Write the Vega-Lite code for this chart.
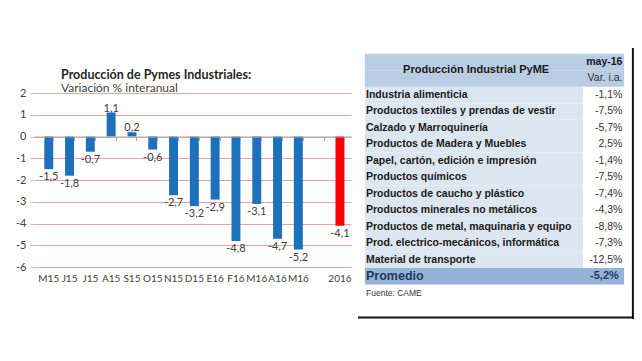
{
  "$schema": "https://vega.github.io/schema/vega-lite/v6.json",
  "padding": {"left": 15, "top": 47, "right": 0, "bottom": 0},
  "background": "white",
  "config": {
    "view": {"stroke": null},
    "locale": {"number": {"decimal": ",", "thousands": ".", "grouping": [3], "currency": ["", " €"], "minus": "-"}},
    "font": "Lato"
  },
  "bounds": "flush",
  "spacing": 7,
  "hconcat": [
    {
      "width": 317,
      "height": 219,
      "title": {
        "text": "Producción de Pymes Industriales:",
        "subtitle": "Variación % interanual",
        "anchor": "start",
        "frame": "group",
        "dx": 27,
        "offset": -46,
        "font": "Lato",
        "fontSize": 12.5,
        "fontWeight": "bold",
        "color": "#262626",
        "subtitleFont": "Lato",
        "subtitleFontSize": 12,
        "subtitleColor": "#404040",
        "subtitlePadding": 2
      },
      "data": {"values": [
        {"m": "M15a", "v": -1.5, "s": "mes"},
        {"m": "J15a", "v": -1.8, "s": "mes"},
        {"m": "J15b", "v": -0.7, "s": "mes"},
        {"m": "A15a", "v": 1.1, "s": "mes"},
        {"m": "S15a", "v": 0.2, "s": "mes"},
        {"m": "O15a", "v": -0.6, "s": "mes"},
        {"m": "N15a", "v": -2.7, "s": "mes"},
        {"m": "D15a", "v": -3.2, "s": "mes"},
        {"m": "E16a", "v": -2.9, "s": "mes"},
        {"m": "F16a", "v": -4.8, "s": "mes"},
        {"m": "M16a", "v": -3.1, "s": "mes"},
        {"m": "A16a", "v": -4.7, "s": "mes"},
        {"m": "M16b", "v": -5.2, "s": "mes"},
        {"m": "2016a", "v": -4.1, "s": "anual"}
      ]},
      "resolve": {"axis": {"x": "independent"}},
      "layer": [
        {
          "mark": {"type": "bar"},
          "encoding": {
            "x": {
              "field": "m", "type": "nominal",
              "scale": {
                "domain": ["M15a","J15a","J15b","A15a","S15a","O15a","N15a","D15a","E16a","F16a","M16a","A16a","M16b","_","2016a"],
                "paddingInner": 0.57, "paddingOuter": 0.405, "align": 0.61
              },
              "axis": {
                "title": null, "labelAngle": 0, "domain": false, "ticks": false,
                "labelPadding": 6, "labelFontSize": 10, "labelColor": "#404040",
                "labelExpr": "slice(datum.value, 0, -1)"
              }
            },
            "y": {
              "field": "v", "type": "quantitative",
              "scale": {"domain": [-6, 4.07], "nice": false, "zero": false},
              "axis": {
                "title": null, "values": [-6, -5, -4, -3, -2, -1, 0, 1, 2], "labelOverlap": false,
                "grid": true, "gridColor": "#e6a0a6", "gridWidth": 1, "gridOpacity": 1,
                "domain": false, "ticks": true, "tickSize": 4, "tickColor": "#bfbfbf", "labelPadding": 4,
                "labelFontSize": 11, "labelColor": "#404040", "format": "d"
              }
            },
            "y2": {"datum": 0},
            "color": {
              "field": "s", "type": "nominal", "legend": null,
              "scale": {"domain": ["mes", "anual"], "range": ["#1e70bb", "#ff0000"]}
            }
          }
        },
        {
          "transform": [{"filter": "datum.v < 0"}],
          "mark": {"type": "text", "baseline": "top", "dy": 2, "fontSize": 11, "color": "#404040",
                   "text": {"expr": "format(datum.v, '.1f')"}},
          "encoding": {
            "x": {
              "field": "m", "type": "nominal",
              "axis": {
                "title": null, "orient": "bottom", "offset": -130.5, "labels": false,
                "domain": true, "domainColor": "#a6a6a6", "domainWidth": 1,
                "ticks": true, "tickColor": "#a6a6a6", "tickSize": 4, "tickBand": "extent", "zindex": 1
              }
            },
            "y": {
              "field": "v", "type": "quantitative",
              "axis": {
                "title": null, "values": [-6, -5, -4, -3, -2, -1, 0, 1, 2], "labelOverlap": false,
                "grid": true, "gridColor": "#e6a0a6", "gridWidth": 1, "gridOpacity": 1,
                "domain": false, "ticks": true, "tickSize": 4, "tickColor": "#bfbfbf", "labelPadding": 4,
                "labelFontSize": 11, "labelColor": "#404040", "format": "d"
              }
            }
          }
        },
        {
          "transform": [{"filter": "datum.v >= 0"}],
          "mark": {"type": "text", "baseline": "bottom", "dy": 1, "fontSize": 11, "color": "#404040",
                   "text": {"expr": "format(datum.v, '.1f')"}},
          "encoding": {
            "x": {"field": "m", "type": "nominal", "axis": null},
            "y": {
              "field": "v", "type": "quantitative",
              "axis": {
                "title": null, "values": [-6, -5, -4, -3, -2, -1, 0, 1, 2], "labelOverlap": false,
                "grid": true, "gridColor": "#e6a0a6", "gridWidth": 1, "gridOpacity": 1,
                "domain": false, "ticks": true, "tickSize": 4, "tickColor": "#bfbfbf", "labelPadding": 4,
                "labelFontSize": 11, "labelColor": "#404040", "format": "d"
              }
            }
          }
        }
      ]
    },
    {
      "width": 276,
      "height": 271,
      "data": {"values": [
        {"k": "h1", "label": "Producción Industrial PyME", "note": "may-16", "t": "head"},
        {"k": "h2", "note": "Var. i.a.", "t": "head"},
        {"k": "r01", "label": "Industria alimenticia", "v": -1.1, "t": "row"},
        {"k": "r02", "label": "Productos textiles y prendas de vestir", "v": -7.5, "t": "row"},
        {"k": "r03", "label": "Calzado y Marroquinería", "v": -5.7, "t": "row"},
        {"k": "r04", "label": "Productos de Madera y Muebles", "v": 2.5, "t": "row"},
        {"k": "r05", "label": "Papel, cartón, edición e impresión", "v": -1.4, "t": "row"},
        {"k": "r06", "label": "Productos químicos", "v": -7.5, "t": "row"},
        {"k": "r07", "label": "Productos de caucho y plástico", "v": -7.4, "t": "row"},
        {"k": "r08", "label": "Productos minerales no metálicos", "v": -4.3, "t": "row"},
        {"k": "r09", "label": "Productos de metal, maquinaria y equipo", "v": -8.8, "t": "row"},
        {"k": "r10", "label": "Prod. electrico-mecánicos, informática", "v": -7.3, "t": "row"},
        {"k": "r11", "label": "Material de transporte", "v": -12.5, "t": "row"},
        {"k": "avg", "label": "Promedio", "v": -5.2, "t": "avg"},
        {"k": "src", "label": "Fuente: CAME", "t": "src"},
        {"k": "end", "t": "end"}
      ]},
      "layer": [
        {
          "transform": [{"filter": "datum.t == 'row'"}],
          "mark": {"type": "rect", "color": "#dce6f1"},
          "encoding": {
            "x": {"datum": 2.5, "type": "quantitative", "scale": {"domain": [0, 100], "nice": false}, "axis": null},
            "x2": {"datum": 81.5},
            "y": {
              "field": "k", "type": "nominal",
              "scale": {
                "domain": ["h1","h2","r01","r02","r03","r04","r05","r06","r07","r08","r09","r10","r11","avg","src","end"],
                "paddingInner": 0, "paddingOuter": 0.218, "align": 0.79
              },
              "axis": null
            }
          }
        },
        {
          "transform": [{"filter": "datum.t == 'head'"}],
          "mark": {"type": "rect", "color": "#b8cce4"},
          "encoding": {"x": {"datum": 2.5, "type": "quantitative"}, "x2": {"datum": 96.4},
                       "y": {"field": "k", "type": "nominal"}}
        },
        {
          "transform": [{"filter": "datum.t == 'avg'"}],
          "mark": {"type": "rect", "color": "#95b3d7"},
          "encoding": {"x": {"datum": 2.5, "type": "quantitative"}, "x2": {"datum": 96.4},
                       "y": {"field": "k", "type": "nominal"}}
        },
        {
          "transform": [{"filter": "datum.t == 'row'"}],
          "mark": {"type": "text", "align": "left", "baseline": "middle", "font": "Liberation Sans",
                   "fontWeight": "bold", "fontSize": 10.5, "color": "#1a1a1a"},
          "encoding": {"x": {"datum": 2.9, "type": "quantitative"}, "y": {"field": "k", "type": "nominal"},
                       "text": {"field": "label"}}
        },
        {
          "transform": [{"filter": "datum.t == 'row'"}],
          "mark": {"type": "text", "align": "right", "baseline": "middle", "font": "Liberation Sans",
                   "fontSize": 10.5, "color": "#333333",
                   "text": {"expr": "format(datum.v, '.1f') + '%'"}},
          "encoding": {"x": {"datum": 95.8, "type": "quantitative"}, "y": {"field": "k", "type": "nominal"}}
        },
        {
          "transform": [{"filter": "datum.t == 'avg'"}],
          "mark": {"type": "text", "align": "left", "baseline": "middle", "font": "Liberation Sans",
                   "fontWeight": "bold", "fontSize": 12.5, "color": "#1f3a60"},
          "encoding": {"x": {"datum": 2.9, "type": "quantitative"}, "y": {"field": "k", "type": "nominal"},
                       "text": {"field": "label"}}
        },
        {
          "transform": [{"filter": "datum.t == 'avg'"}],
          "mark": {"type": "text", "align": "right", "baseline": "middle", "font": "Liberation Sans",
                   "fontWeight": "bold", "fontSize": 11, "color": "#1f3a60",
                   "text": {"expr": "format(datum.v, '.1f') + '%'"}},
          "encoding": {"x": {"datum": 94.5, "type": "quantitative"}, "y": {"field": "k", "type": "nominal"}}
        },
        {
          "transform": [{"filter": "datum.k == 'h1'"}],
          "mark": {"type": "text", "align": "center", "baseline": "middle", "font": "Liberation Sans",
                   "fontWeight": "bold", "fontSize": 11, "color": "#1a1a1a"},
          "encoding": {
            "x": {"datum": 42.8, "type": "quantitative"},
            "y": {"field": "k", "type": "nominal", "bandPosition": 1},
            "text": {"field": "label"}
          }
        },
        {
          "transform": [{"filter": "datum.k == 'h1'"}],
          "mark": {"type": "text", "align": "right", "baseline": "middle", "font": "Liberation Sans",
                   "fontWeight": "bold", "fontSize": 10.5, "color": "#1a1a1a"},
          "encoding": {"x": {"datum": 95.8, "type": "quantitative"}, "y": {"field": "k", "type": "nominal"},
                       "text": {"field": "note"}}
        },
        {
          "transform": [{"filter": "datum.k == 'h2'"}],
          "mark": {"type": "text", "align": "right", "baseline": "middle", "font": "Liberation Sans",
                   "fontSize": 10.5, "color": "#333333"},
          "encoding": {"x": {"datum": 95.8, "type": "quantitative"}, "y": {"field": "k", "type": "nominal"},
                       "text": {"field": "note"}}
        },
        {
          "transform": [{"filter": "datum.t == 'src'"}],
          "mark": {"type": "text", "align": "left", "baseline": "middle", "font": "Liberation Sans",
                   "fontSize": 8.5, "color": "#333333"},
          "encoding": {"x": {"datum": 2.9, "type": "quantitative"}, "y": {"field": "k", "type": "nominal"},
                       "text": {"field": "label"}}
        },
        {
          "transform": [{"filter": "datum.t == 'end'"}],
          "mark": {"type": "rule", "color": "#111111", "strokeWidth": 2},
          "encoding": {"x": {"datum": 99.6, "type": "quantitative"}}
        },
        {
          "transform": [{"filter": "datum.t == 'end'"}],
          "mark": {"type": "rule", "color": "#111111", "strokeWidth": 2},
          "encoding": {"y": {"field": "k", "type": "nominal", "bandPosition": 1}}
        }
      ]
    }
  ]
}
